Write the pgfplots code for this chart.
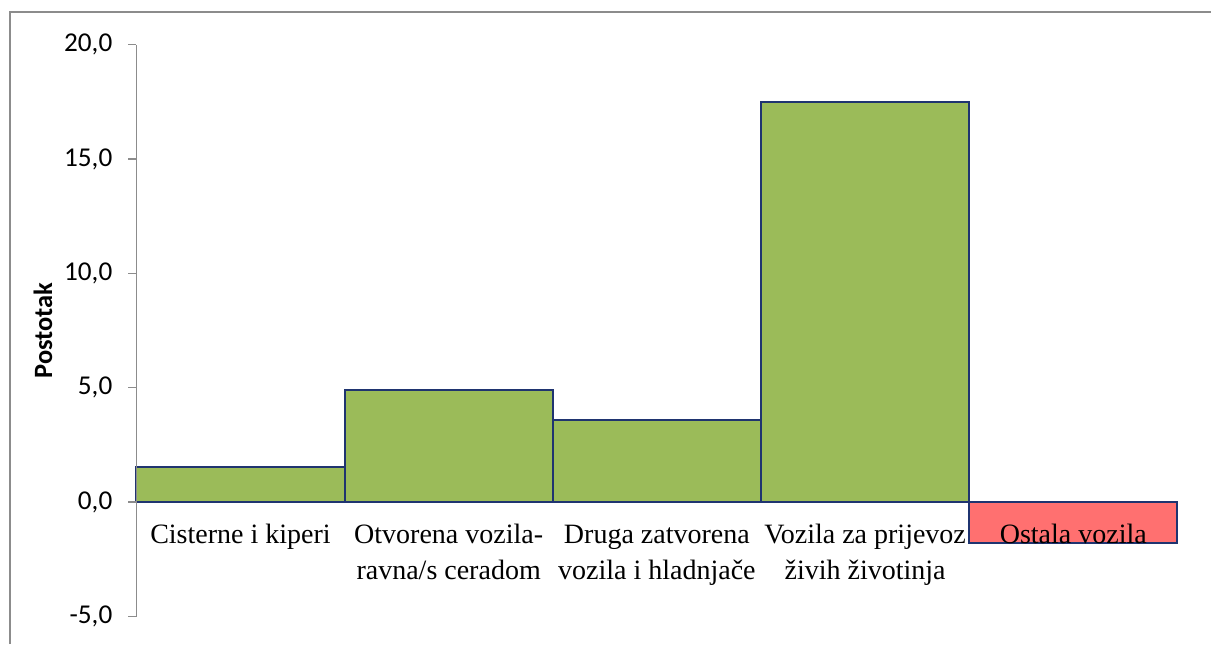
\documentclass[border=0pt]{standalone}
\usepackage{pgfplots}
\pgfplotsset{compat=1.18}
\usepackage{fontspec}
\setmainfont{Carlito}
\newfontfamily\serif{Liberation Serif}
\definecolor{bargreen}{HTML}{9BBB59}
\definecolor{barred}{HTML}{FF7070}
\definecolor{edge}{HTML}{1F3470}
\definecolor{framegray}{HTML}{8C8C8C}
\begin{document}
\begin{tikzpicture}[x=1pt,y=1pt]
\useasboundingbox (0,0) rectangle (605.5,322);
\draw[framegray, line width=1pt] (5,0) -- (5,315.75) -- (605.5,315.75);
\begin{axis}[
  axis on top,
  at={(65.5,12)}, anchor=south west,
  scale only axis, width=520.5pt, height=286pt,
  xmin=-0.5, xmax=4.5, ymin=-5, ymax=20,
  axis y line=left, axis x line=middle,
  axis line style={-, framegray, line width=0.75pt},
  x axis line style={draw=none},
  ytick={-5,0,5,10,15,20},
  /pgf/number format/fixed, /pgf/number format/fixed zerofill,
  /pgf/number format/precision=1, /pgf/number format/use comma,
  /pgf/number format/assume math mode=true,
  yticklabel style={font=\fontsize{13.6}{15}\selectfont, xshift=-4.5pt},
  ytick style={framegray, line width=0.75pt},
  tick align=outside, major tick length=4pt,
  xtick={0,1,2,3,4},
  xticklabels={{\strut Cisterne i kiperi},{\strut Otvorena vozila-\\\strut ravna/s ceradom},{\strut Druga zatvorena\\\strut vozila i hladnjače},{\strut Vozila za prijevoz\\\strut živih životinja},{\strut Ostala vozila}},
  xticklabel style={font=\serif\fontsize{14}{18}\selectfont, align=center, anchor=north, yshift=-0.5pt},
  x tick style={draw=none},
  ylabel={\textbf{Postotak}},
  every axis y label/.style={at={(axis description cs:-0.074,0.5)}, rotate=90, anchor=south, font=\fontsize{13.2}{15}\selectfont},
  ybar, bar width=1,
  clip=false,
]
\addplot[bar shift=0pt, fill=bargreen, draw=edge, line width=1pt] coordinates {(0,1.53) (1,4.89) (2,3.58) (3,17.5)};
\addplot[bar shift=0pt, fill=barred, draw=edge, line width=1pt] coordinates {(4,-1.79)};
\end{axis}
\end{tikzpicture}
\end{document}
